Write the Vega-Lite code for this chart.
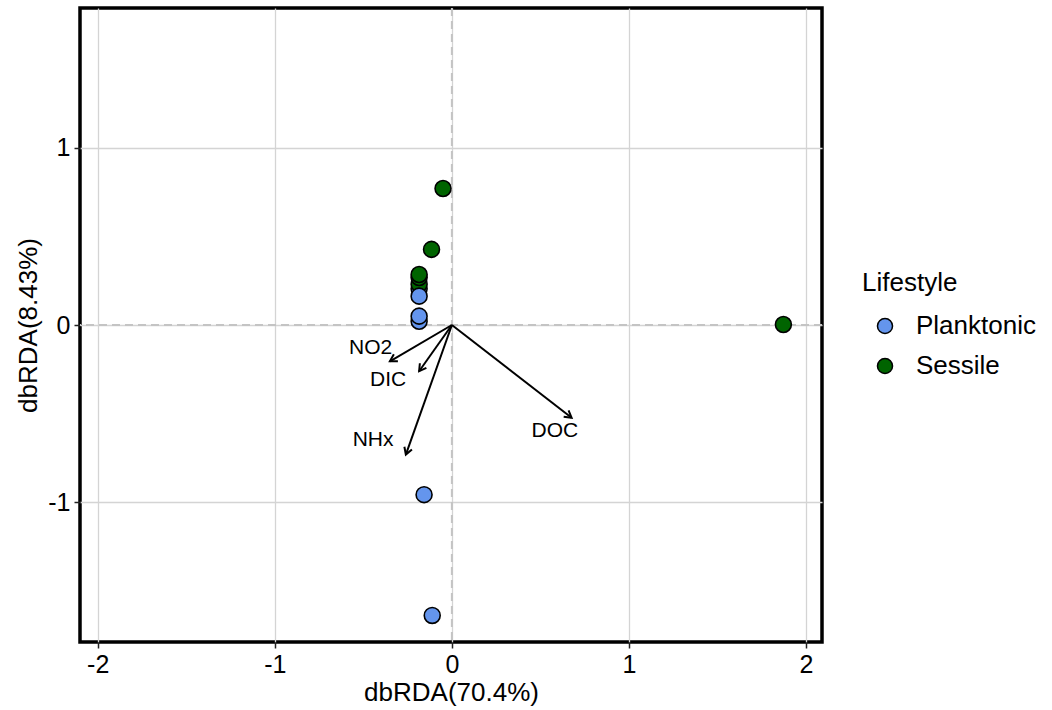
{
  "$schema": "https://vega.github.io/schema/vega-lite/v6.json",
  "width": 742,
  "height": 634,
  "autosize": "none",
  "padding": {"left": 80, "top": 8, "right": 230, "bottom": 68},
  "background": "white",
  "config": {
    "font": "Liberation Sans",
    "view": {"stroke": "black", "strokeWidth": 3.5},
    "axis": {
      "grid": true,
      "gridColor": "#d4d4d4",
      "gridWidth": 1.3,
      "domain": false,
      "ticks": true,
      "tickColor": "#222222",
      "tickWidth": 1.5,
      "tickSize": 6,
      "labelFont": "Liberation Sans",
      "labelFontSize": 25,
      "labelColor": "black",
      "labelPadding": 4,
      "labelExpr": "'' + datum.value",
      "titleFont": "Liberation Sans",
      "titleFontSize": 26,
      "titleFontWeight": "normal",
      "titleColor": "black"
    },
    "axisY": {"titlePadding": 6},
    "axisX": {"titlePadding": 2},
    "legend": {
      "orient": "none",
      "legendX": 782,
      "legendY": 262,
      "titleFont": "Liberation Sans",
      "titleFontSize": 26,
      "titleFontWeight": "normal",
      "titleColor": "black",
      "titlePadding": 17,
      "labelFont": "Liberation Sans",
      "labelFontSize": 26,
      "labelColor": "black",
      "labelOffset": 18,
      "symbolOffset": 10,
      "symbolSize": 227,
      "symbolStrokeColor": "black",
      "symbolStrokeWidth": 1.5,
      "symbolType": "circle",
      "rowPadding": 14
    }
  },
  "datasets": {
    "sites": [
      {"Lifestyle": "Planktonic", "dbRDA1": -0.185, "dbRDA2": 0.205},
      {"Lifestyle": "Sessile", "dbRDA1": -0.185, "dbRDA2": 0.23},
      {"Lifestyle": "Sessile", "dbRDA1": -0.185, "dbRDA2": 0.268},
      {"Lifestyle": "Sessile", "dbRDA1": -0.185, "dbRDA2": 0.285},
      {"Lifestyle": "Planktonic", "dbRDA1": -0.185, "dbRDA2": 0.163},
      {"Lifestyle": "Planktonic", "dbRDA1": -0.185, "dbRDA2": 0.021},
      {"Lifestyle": "Planktonic", "dbRDA1": -0.185, "dbRDA2": 0.05},
      {"Lifestyle": "Sessile", "dbRDA1": -0.115, "dbRDA2": 0.427},
      {"Lifestyle": "Sessile", "dbRDA1": -0.05, "dbRDA2": 0.771},
      {"Lifestyle": "Sessile", "dbRDA1": 1.872, "dbRDA2": 0.003},
      {"Lifestyle": "Planktonic", "dbRDA1": -0.157, "dbRDA2": -0.958},
      {"Lifestyle": "Planktonic", "dbRDA1": -0.111, "dbRDA2": -1.64}
    ],
    "arrows": [
      {"var": "NO2", "x": -0.35, "y": -0.205, "lx": -0.459, "ly": -0.129},
      {"var": "DIC", "x": -0.185, "y": -0.261, "lx": -0.36, "ly": -0.308},
      {"var": "NHx", "x": -0.26, "y": -0.732, "lx": -0.445, "ly": -0.647},
      {"var": "DOC", "x": 0.676, "y": -0.524, "lx": 0.582, "ly": -0.6}
    ]
  },
  "data": {"name": "sites"},
  "layer": [
    {
      "data": {"values": [{"v": 0}]},
      "mark": {"type": "rule", "color": "#c4c4c4", "strokeWidth": 2, "strokeDash": [8, 5]},
      "encoding": {"y": {"field": "v", "type": "quantitative", "title": "dbRDA(8.43%)"}}
    },
    {
      "data": {"values": [{"v": 0}]},
      "mark": {"type": "rule", "color": "#c4c4c4", "strokeWidth": 2, "strokeDash": [8, 5]},
      "encoding": {"x": {"field": "v", "type": "quantitative", "title": "dbRDA(70.4%)"}}
    },
    {
      "data": {"name": "arrows"},
      "mark": {"type": "rule", "color": "black", "strokeWidth": 2},
      "encoding": {
        "x": {"field": "x", "type": "quantitative", "title": "dbRDA(70.4%)"},
        "y": {"field": "y", "type": "quantitative", "title": "dbRDA(8.43%)"},
        "x2": {"datum": 0},
        "y2": {"datum": 0}
      }
    },
    {
      "data": {"name": "arrows"},
      "transform": [{"calculate": "atan2(datum.x, datum.y) * 180 / PI", "as": "ang"}],
      "mark": {"type": "point", "shape": "M -0.5 0.866 L 0 0 L 0.5 0.866", "filled": false, "color": "black", "strokeWidth": 2, "size": 256, "opacity": 1},
      "encoding": {
        "x": {"field": "x", "type": "quantitative", "title": "dbRDA(70.4%)"},
        "y": {"field": "y", "type": "quantitative", "title": "dbRDA(8.43%)"},
        "angle": {"field": "ang", "type": "quantitative", "scale": null}
      }
    },
    {
      "data": {"name": "arrows"},
      "mark": {"type": "text", "font": "Liberation Sans", "fontSize": 21, "color": "black", "align": "center", "baseline": "middle"},
      "encoding": {
        "x": {"field": "lx", "type": "quantitative", "title": "dbRDA(70.4%)"},
        "y": {"field": "ly", "type": "quantitative", "title": "dbRDA(8.43%)"},
        "text": {"field": "var"}
      }
    },
    {
      "mark": {"type": "point", "filled": true, "size": 254, "stroke": "black", "strokeWidth": 1.6, "opacity": 1},
      "encoding": {
        "x": {
          "field": "dbRDA1", "type": "quantitative", "title": "dbRDA(70.4%)",
          "scale": {"domain": [-2.1, 2.09], "nice": false, "zero": false},
          "axis": {"values": [-2, -1, 0, 1, 2]}
        },
        "y": {
          "field": "dbRDA2", "type": "quantitative", "title": "dbRDA(8.43%)",
          "scale": {"domain": [-1.79, 1.79], "nice": false, "zero": false},
          "axis": {"values": [-1, 0, 1]}
        },
        "fill": {
          "field": "Lifestyle", "type": "nominal", "title": "Lifestyle",
          "scale": {"domain": ["Planktonic", "Sessile"], "range": ["#6495ED", "#006400"]}
        }
      }
    }
  ]
}
